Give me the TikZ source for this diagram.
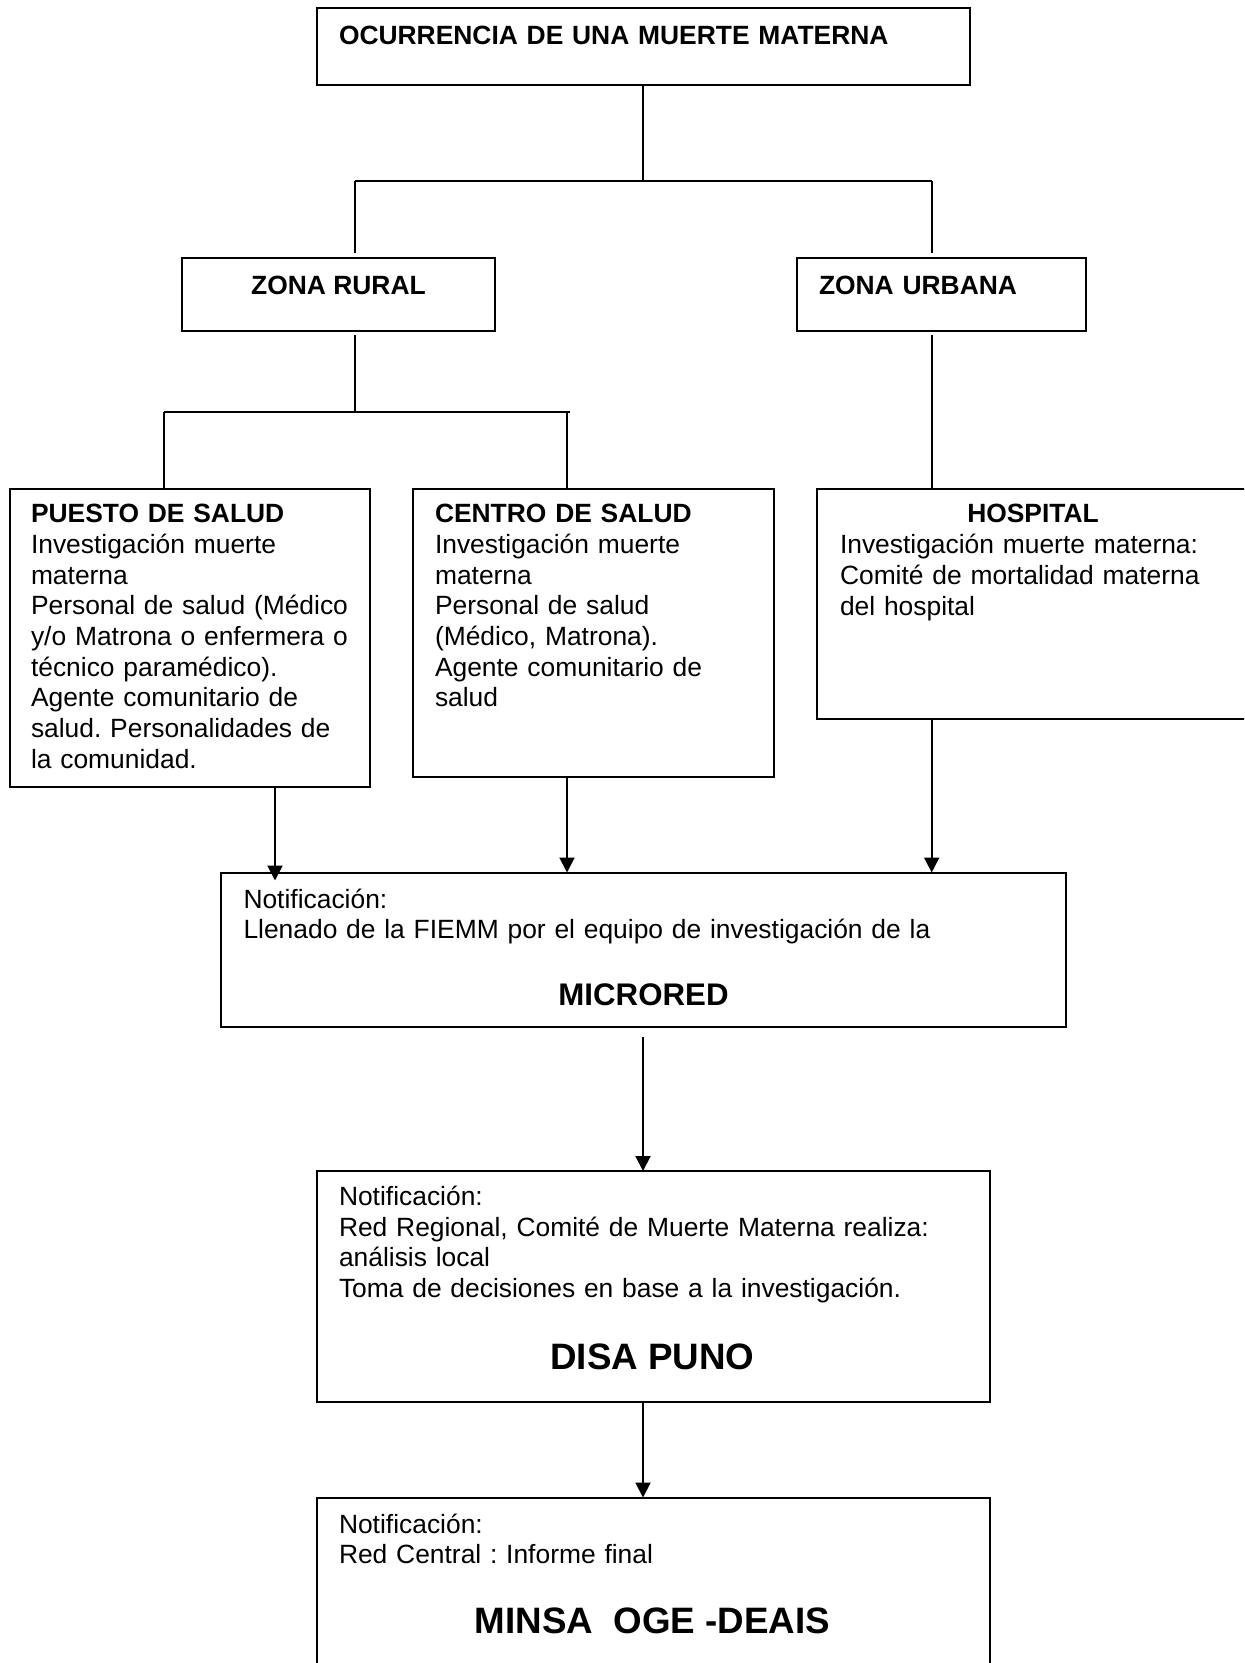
\documentclass[tikz,border=0pt]{standalone}
\usepackage{fontspec}
\setmainfont{Liberation Sans}
\usepackage{tikz}
\usetikzlibrary{arrows.meta}
\frenchspacing
\tikzset{
  caja/.style={draw, rectangle, anchor=north west, inner sep=0pt, outer sep=0pt},
  texto/.style={anchor=base west, inner sep=0pt, text width=330pt, align=left, font=\fontsize{10.56}{12.25}\selectfont},
  titulo/.style={anchor=base, inner sep=0pt, font=\bfseries\fontsize{10.56}{12.25}\selectfont},
  grande/.style={anchor=base, inner sep=0pt, font=\bfseries\fontsize{14.7}{17}\selectfont},
  flecha/.style={-{Triangle[width=6pt,length=6pt]}}
}
\begin{document}
\begin{tikzpicture}[x=0.4pt, y=-0.4pt, line width=0.8pt]
        \useasboundingbox (0,0) rectangle (1244,1663);
        \clip (0,0) rectangle (1244,1663);
        \node [caja, minimum width=261.2pt, minimum height=30.6pt] (Top) at (317,8.5) {};
        \node [caja, minimum width=125.2pt, minimum height=29.2pt] (Rural) at (182,258) {};
        \node [caja, minimum width=115.6pt, minimum height=29.2pt] (Urbana) at (797,258) {};
        \node [caja, minimum width=144.2pt, minimum height=119.2pt] (Puesto) at (9.5,489) {};
        \node [caja, minimum width=144.4pt, minimum height=115.2pt] (Centro) at (413,489) {};
        \node [caja, minimum width=177.2pt, minimum height=92pt] (Hosp) at (817,489) {};
        \node [caja, minimum width=338pt, minimum height=61.6pt] (Micro) at (221,872.5) {};
        \node [caja, minimum width=269.2pt, minimum height=92.2pt] (Disa) at (317,1171) {};
        \node [caja, minimum width=269.2pt, minimum height=84pt] (Minsa) at (317,1497.5) {};
        \node [texto] (TopTxt) at ([shift={(21,36.5)}]Top.north west) {\textbf{OCURRENCIA DE UNA MUERTE MATERNA}};
        \node [titulo] (RuralTxt) at ([shift={(0,37)}]Rural.north) {ZONA RURAL};
        \node [texto] (UrbanaTxt) at ([shift={(21,37)}]Urbana.north west) {\textbf{ZONA URBANA}};
        \node [texto] (PuestoTxt) at ([shift={(20.5,34)}]Puesto.north west) {\textbf{PUESTO DE SALUD}\\Investigación muerte\\materna\\Personal de salud (Médico\\y/o Matrona o enfermera o\\técnico paramédico).\\Agente comunitario de\\salud. Personalidades de\\la comunidad.};
        \node [texto] (CentroTxt) at ([shift={(21,34)}]Centro.north west) {\textbf{CENTRO DE SALUD}\\Investigación muerte\\materna\\Personal de salud\\(Médico, Matrona).\\Agente comunitario de\\salud};
        \node [titulo] (HospTit) at ([shift={(216,34)}]Hosp.north west) {HOSPITAL};
        \node [texto] (HospTxt) at ([shift={(22,65)}]Hosp.north west) {Investigación muerte materna:\\Comité de mortalidad materna\\del hospital};
        \node [texto] (MicroTxt) at ([shift={(21.5,35.5)}]Micro.north west) {Notificación:\\Llenado de la FIEMM por el equipo de investigación de la};
        \node [anchor=base, inner sep=0pt, font=\bfseries\fontsize{12.5}{15}\selectfont] (MicroTit) at ([shift={(0,132.5)}]Micro.north) {MICRORED};
        \node [texto] (DisaTxt) at ([shift={(21,34.5)}]Disa.north west) {Notificación:\\Red Regional, Comité de Muerte Materna realiza:\\análisis local\\Toma de decisiones en base a la investigación.};
        \node [grande] (DisaTit) at ([shift={(-1,198)}]Disa.north) {DISA PUNO};
        \node [texto] (MinsaTxt) at ([shift={(21,35.5)}]Minsa.north west) {Notificación:\\Red Central : Informe final};
        \node [grande] (MinsaTit) at ([shift={(-1,136)}]Minsa.north) {MINSA\ \ OGE -DEAIS};
        \coordinate (Eje) at (643,0);
        \coordinate (JRural) at (355,181.5);
        \coordinate (JUrbana) at (931.7,181.5);
        \coordinate (JZona) at (355,411.7);
        \coordinate (JPuesto) at (163.5,411.7);
        \coordinate (JCentro) at (567,411.7);
        \coordinate (APuesto) at (275,0);
        \draw (Eje |- Top.south) to (Eje |- JRural);
        \draw (JRural) to (JUrbana);
        \draw [shorten >=2pt] (JRural) to (JRural |- Rural.north);
        \draw [shorten >=2pt] (JUrbana) to (JUrbana |- Urbana.north);
        \draw [shorten <=1.6pt] (JRural |- Rural.south) to (JZona);
        \draw (JPuesto) to ([xshift=1.2pt]JCentro);
        \draw (JPuesto) to (JPuesto |- Puesto.north);
        \draw (JCentro) to (JCentro |- Centro.north);
        \draw [shorten <=1.6pt] (JUrbana |- Urbana.south) to (JUrbana |- Hosp.north);
        \draw [flecha, shorten >=-3.2pt] (APuesto |- Puesto.south) to (APuesto |- Micro.north);
        \draw [flecha] (JCentro |- Centro.south) to (JCentro |- Micro.north);
        \draw [flecha] (JUrbana |- Hosp.south) to (JUrbana |- Micro.north);
        \draw [flecha, shorten <=4pt] (Eje |- Micro.south) to (Eje |- Disa.north);
        \draw [flecha] (Eje |- Disa.south) to (Eje |- Minsa.north);
      \end{tikzpicture}
\end{document}
